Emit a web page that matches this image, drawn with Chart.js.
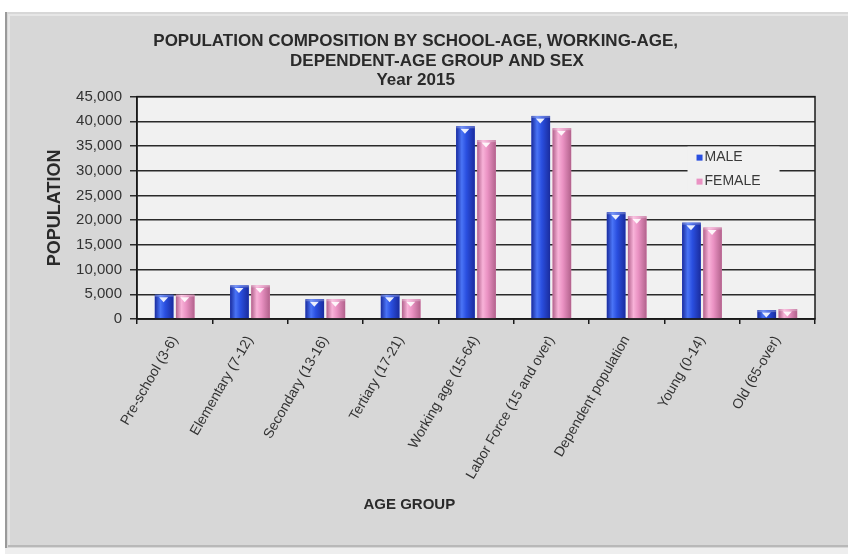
<!DOCTYPE html>
<html>
<head>
<meta charset="utf-8">
<script src="https://cdn.jsdelivr.net/npm/chart.js@4.4.1/dist/chart.umd.min.js"></script>
<style>
  html, body { margin: 0; padding: 0; background: #ffffff; }
  #wrap { width: 848px; height: 554px; position: relative; }
</style>
</head>
<body>
<div id="wrap"><canvas id="c" width="848" height="554"></canvas></div>
<script>
const categories = [
  'Pre-school (3-6)', 'Elementary (7-12)', 'Secondary (13-16)', 'Tertiary (17-21)',
  'Working age (15-64)', 'Labor Force (15 and over)', 'Dependent population',
  'Young (0-14)', 'Old (65-over)'
];
const maleValues   = [4900, 6800, 4000, 4900, 39000, 41100, 21600, 19500, 1800];
const femaleValues = [4900, 6800, 4000, 4000, 36200, 38600, 20800, 18500, 2000];
const seriesNames = ['MALE', 'FEMALE'];
const titleLines = [
  'POPULATION COMPOSITION BY SCHOOL-AGE, WORKING-AGE,     ',
  '    DEPENDENT-AGE GROUP AND SEX',
  'Year 2015     '
];
const yAxisTitle = 'POPULATION';
const xAxisTitle = 'AGE GROUP                                ';

const FONT = "'Liberation Sans', Arial, Helvetica, sans-serif";
const shades = [
  { base: '#2a4fe0', edge: '#1a2c9e', mid: '#4a74f6' },
  { base: '#ea92c3', edge: '#b2628c', mid: '#f8b2d8' }
];

const framePlugin = {
  id: 'frame',
  beforeDraw(chart) {
    const { ctx, width, height, chartArea: a } = chart;
    ctx.save();
    ctx.fillStyle = '#ffffff';
    ctx.fillRect(0, 0, width, height);
    ctx.fillStyle = '#d7d7d7';
    ctx.fillRect(5, 12, width - 5, height - 18);
    ctx.fillStyle = '#9a9a9a';
    ctx.fillRect(5, 12, 2, height - 18);
    ctx.fillStyle = '#e6e6e6';
    ctx.fillRect(8, 14, 2, height - 22);
    ctx.fillRect(8, 14, width - 8, 2);
    ctx.fillStyle = '#b8b8b8';
    ctx.fillRect(8, height - 9, width - 8, 2);
    ctx.fillStyle = '#eeeeee';
    ctx.fillRect(5, height - 6, width - 5, 6);
    ctx.fillStyle = '#f1f1f1';
    ctx.fillRect(a.left, a.top, a.right - a.left, a.bottom - a.top);
    ctx.restore();
  },
  afterDraw(chart) {
    const { ctx, chartArea: a } = chart;
    ctx.save();
    ctx.strokeStyle = '#1a1a1a';
    ctx.lineWidth = 1.5;
    ctx.strokeRect(a.left, a.top, a.right - a.left, a.bottom - a.top);
    ctx.restore();
  }
};

const barStylePlugin = {
  id: 'barStyle',
  afterDatasetsDraw(chart) {
    const { ctx } = chart;
    ctx.save();
    chart.data.datasets.forEach((ds, di) => {
      const meta = chart.getDatasetMeta(di);
      const s = shades[di];
      meta.data.forEach(el => {
        const { x, y, base, width } = el.getProps(['x', 'y', 'base', 'width'], true);
        const l = x - width / 2, h = base - y;
        const g = ctx.createLinearGradient(l, 0, l + width, 0);
        g.addColorStop(0, s.edge);
        g.addColorStop(0.3, s.mid);
        g.addColorStop(0.55, s.base);
        g.addColorStop(1, s.edge);
        ctx.fillStyle = g;
        ctx.fillRect(l, y, width, h);
        ctx.fillStyle = 'rgba(255,255,255,0.25)';
        ctx.fillRect(l, y, width, Math.min(2, h));
        if (h > 8) {
          ctx.fillStyle = 'rgba(255,255,255,0.9)';
          ctx.beginPath();
          ctx.moveTo(x - 5, y + 2.5);
          ctx.lineTo(x + 4, y + 2.5);
          ctx.lineTo(x - 0.5, y + 7.5);
          ctx.closePath();
          ctx.fill();
        }
      });
    });
    ctx.restore();
  }
};

const legendPlugin = {
  id: 'insideLegend',
  afterDraw(chart) {
    const { ctx, chartArea: a } = chart;
    const w = a.right - a.left;
    const bx = a.left + w * 0.812, by = a.top + 50, bw = 92, bh = 44;
    ctx.save();
    ctx.fillStyle = '#f1f1f1';
    ctx.fillRect(bx, by, bw, bh);
    ctx.font = '14px ' + FONT;
    ctx.textBaseline = 'middle';
    chart.data.datasets.forEach((ds, i) => {
      const cy = by + 11 + i * 24;
      ctx.fillStyle = shades[i].base;
      ctx.fillRect(bx + 9, cy - 3, 6, 6);
      ctx.fillStyle = '#3a3a3a';
      ctx.fillText(ds.label, bx + 17, cy);
    });
    ctx.restore();
  }
};

new Chart(document.getElementById('c'), {
  type: 'bar',
  data: {
    labels: categories,
    datasets: [
      { label: seriesNames[0], data: maleValues, backgroundColor: shades[0].base },
      { label: seriesNames[1], data: femaleValues, backgroundColor: shades[1].base }
    ]
  },
  options: {
    responsive: false,
    animation: false,
    devicePixelRatio: 1,
    categoryPercentage: 0.56,
    barPercentage: 0.88,
    layout: { padding: { top: 0, left: 40, right: 33, bottom: 0 } },
    plugins: {
      legend: { display: false },
      tooltip: { enabled: false },
      title: {
        display: true,
        text: titleLines,
        color: '#2a2a2a',
        font: { family: FONT, size: 17, weight: 'bold', lineHeight: 1.13 },
        padding: { top: 32, bottom: 7 }
      }
    },
    scales: {
      x: {
        grid: { display: true, drawOnChartArea: false, drawTicks: true, tickLength: 5, offset: true, color: '#1a1a1a', lineWidth: 1.5 },
        border: { display: true, color: '#1a1a1a', width: 1.5 },
        ticks: {
          color: '#333333', font: { family: FONT, size: 14 },
          minRotation: 60, maxRotation: 60, padding: 9, autoSkip: false
        },
        title: {
          display: true, text: xAxisTitle, color: '#2a2a2a',
          font: { family: FONT, size: 15, weight: 'bold' },
          padding: { top: 0, bottom: 40 }
        },
        afterFit(scale) { scale.height = 235; }
      },
      y: {
        min: 0, max: 45000,
        ticks: {
          stepSize: 5000, color: '#333333', font: { family: FONT, size: 15 }, padding: 8,
          callback: v => v.toLocaleString('en-US')
        },
        grid: { color: '#2a2a2a', lineWidth: 1.5, drawTicks: true, tickLength: 7 },
        border: { display: true, color: '#1a1a1a', width: 1.5 },
        title: {
          display: true, text: yAxisTitle, color: '#2a2a2a',
          font: { family: FONT, size: 18, weight: 'bold' },
          padding: { top: 4, bottom: 0 }
        },
        afterFit(scale) { scale.width = 97; }
      }
    }
  },
  plugins: [framePlugin, barStylePlugin, legendPlugin]
});
</script>
</body>
</html>
